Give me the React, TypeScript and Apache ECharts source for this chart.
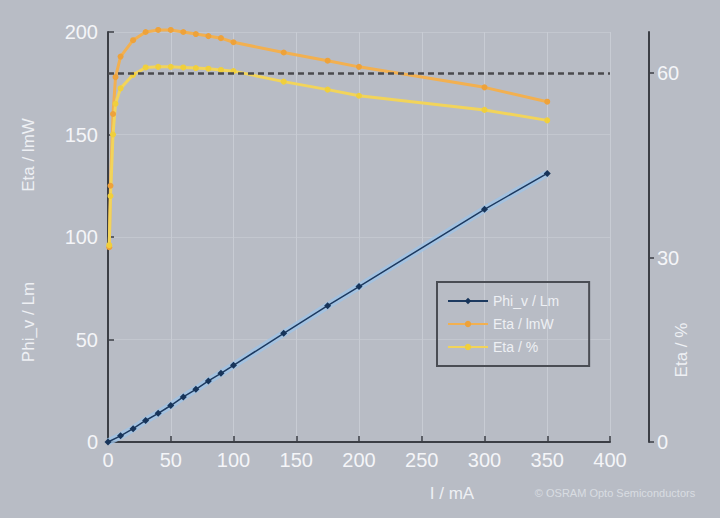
import { useEffect, useRef } from 'react';
import * as echarts from 'echarts';

// luminous flux, measured points
const currentMa = [0, 10, 20, 30, 40, 50, 60, 70, 80, 90, 100, 140, 175, 200, 300, 350];
const fluxLm = [0, 3, 6.5, 10.5, 14, 17.8, 22, 25.7, 29.8, 33.5, 37.4, 53, 66.5, 75.8, 113.5, 131];

// efficiency curves
const etaCurrentMa = [1, 2, 4, 6, 10, 20, 30, 40, 50, 60, 70, 80, 90, 100, 140, 175, 200, 300, 350];
const etaLmW = [95, 125, 160, 178, 188, 196, 200, 201, 201, 200, 199, 198, 197, 195, 190, 186, 183, 173, 166];
const etaPct = [32, 40, 50, 55, 57.5, 59.7, 60.9, 61, 61, 60.9, 60.8, 60.7, 60.5, 60.3, 58.6, 57.3, 56.3, 54, 52.3];

const xTicks = [0, 400, 50];
const leftTicks = [0, 200, 50];
const rightTicks = [0, 200 / 3, 30];
const refLevel = 180;

const pairs = (xs: number[], ys: number[]) => xs.map((x, i) => [x, ys[i]]);

const FONT = 'Liberation Sans';
const AXIS = '#3b3e45';
const LABEL = '#f4f5f8';

export default function App() {
  const chartRef = useRef<HTMLDivElement>(null);

  useEffect(() => {
    document.body.style.margin = '0';
    if (!chartRef.current) return;
    const chart = echarts.init(chartRef.current, null, { renderer: 'svg' });

    const flux = pairs(currentMa, fluxLm);
    const axisName = (text: string, x: number, y: number, rotate: boolean) => ({
      type: 'text',
      x,
      y,
      rotation: rotate ? Math.PI / 2 : 0,
      style: { text, fill: '#eef0f4', font: `17px ${FONT}`, align: 'center', verticalAlign: 'middle' },
    });

    chart.setOption({
      animation: false,
      backgroundColor: '#b8bcc5',
      textStyle: { fontFamily: FONT },
      grid: { left: 108, right: 110, top: 32, bottom: 76, outerBoundsMode: 'none', containLabel: false },
      legend: {
        orient: 'vertical',
        left: 437,
        top: 282,
        width: 156,
        padding: [12, 30, 12, 10],
        itemGap: 9,
        itemWidth: 40,
        itemHeight: 8,
        borderColor: '#4a4d54',
        borderWidth: 2,
        textStyle: { color: '#eef0f4', fontSize: 14, fontFamily: FONT },
        data: ['Phi_v / Lm', 'Eta / lmW', 'Eta / %'],
      },
      xAxis: {
        type: 'value',
        min: xTicks[0],
        max: xTicks[1],
        interval: xTicks[2],
        axisLine: { lineStyle: { color: AXIS, width: 2 } },
        axisTick: { inside: true, length: 6, lineStyle: { color: AXIS, width: 1.5 } },
        axisLabel: { color: LABEL, fontSize: 20, margin: 8 },
        splitLine: { show: true, lineStyle: { color: '#c8ccd4', width: 1 } },
      },
      yAxis: [
        {
          type: 'value',
          min: leftTicks[0],
          max: leftTicks[1],
          interval: leftTicks[2],
          axisLine: { show: true, lineStyle: { color: AXIS, width: 2 } },
          axisTick: { show: true, inside: true, length: 6, lineStyle: { color: AXIS, width: 1.5 } },
          axisLabel: { color: LABEL, fontSize: 20, margin: 10 },
          splitLine: { show: true, lineStyle: { color: '#c3c7cf', width: 1 } },
        },
        {
          type: 'value',
          position: 'right',
          offset: 39,
          min: rightTicks[0],
          max: rightTicks[1],
          interval: rightTicks[2],
          axisLine: { show: true, lineStyle: { color: AXIS, width: 2 } },
          axisTick: { show: true, length: 5, lineStyle: { color: AXIS, width: 1.5 } },
          axisLabel: {
            color: LABEL,
            fontSize: 20,
            margin: 8,
            showMaxLabel: false,
            formatter: (v: number) => (v % rightTicks[2] === 0 ? String(v) : ''),
          },
          splitLine: { show: false },
        },
      ],
      graphic: [
        axisName('Eta / lmW', 28, 155, true),
        axisName('Phi_v / Lm', 28, 322, true),
        axisName('Eta / %', 681, 350, true),
        axisName('I / mA', 452, 493, false),
        {
          type: 'text',
          x: 615,
          y: 493,
          style: { text: '© OSRAM Opto Semiconductors', fill: '#d9dce2', font: `11px ${FONT}`, align: 'center', verticalAlign: 'middle' },
        },
      ],
      series: [
        {
          name: 'Eta / lmW',
          type: 'line',
          yAxisIndex: 0,
          data: pairs(etaCurrentMa, etaLmW),
          symbol: 'circle',
          symbolSize: 6,
          showAllSymbol: true,
          clip: false,
          itemStyle: { color: '#eea23a' },
          lineStyle: { color: '#f2b050', width: 3 },
          z: 3,
          markLine: {
            silent: true,
            symbol: 'none',
            label: { show: false },
            lineStyle: { color: '#4a4a4e', type: [6, 4], width: 2.5 },
            data: [[{ coord: [xTicks[0], refLevel] }, { coord: [xTicks[1], refLevel] }]],
          },
        },
        {
          name: 'Eta / %',
          type: 'line',
          yAxisIndex: 1,
          data: pairs(etaCurrentMa, etaPct),
          symbol: 'circle',
          symbolSize: 6,
          showAllSymbol: true,
          itemStyle: { color: '#f0cf3c' },
          lineStyle: { color: '#f2d45a', width: 3 },
          z: 3,
        },
        {
          // light halo under the flux line
          name: 'flux-glow',
          type: 'line',
          data: flux,
          symbol: 'none',
          lineStyle: { color: '#9fc3e6', width: 7, opacity: 0.8 },
          silent: true,
          z: 2,
        },
        {
          name: 'Phi_v / Lm',
          type: 'line',
          yAxisIndex: 0,
          data: flux,
          symbol: 'diamond',
          symbolSize: 7,
          showAllSymbol: true,
          itemStyle: { color: '#17345a' },
          lineStyle: { color: '#1d3a60', width: 1.5 },
          z: 4,
        },
      ],
    });

    return () => chart.dispose();
  }, []);

  return <div ref={chartRef} style={{ position: 'absolute', left: 0, top: 0, width: 720, height: 518 }} />;
}
